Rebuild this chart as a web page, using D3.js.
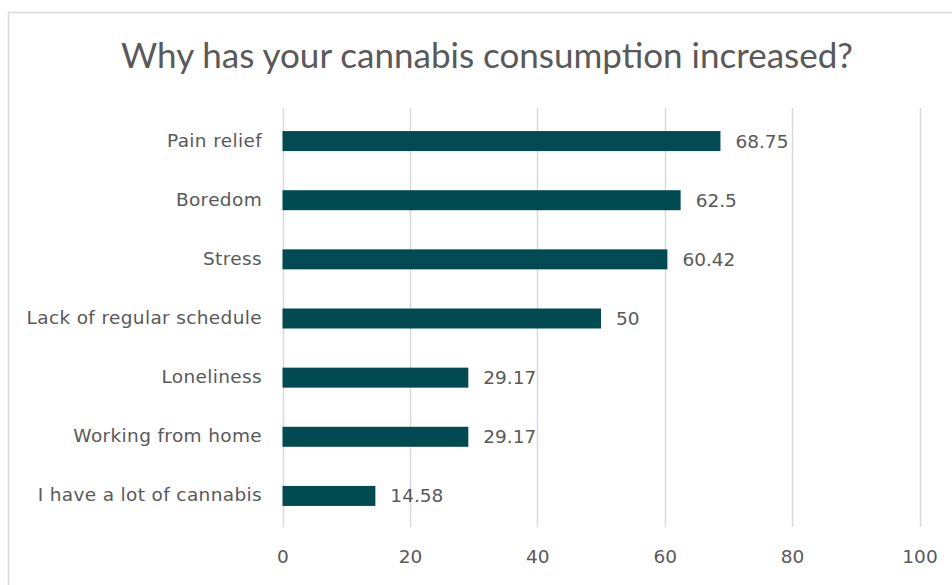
<!DOCTYPE html>
<html>
<head>
<meta charset="utf-8">
<script src="https://cdn.jsdelivr.net/npm/d3@7"></script>
<style>
  html, body { margin: 0; padding: 0; background: #fff; }
  svg { display: block; }
</style>
</head>
<body>
<svg id="chart" width="952" height="585"></svg>
<script>
// Reasons for increased cannabis consumption (% of respondents)
const categories = [
  "Pain relief",
  "Boredom",
  "Stress",
  "Lack of regular schedule",
  "Loneliness",
  "Working from home",
  "I have a lot of cannabis"
];
const values = [68.75, 62.5, 60.42, 50, 29.17, 29.17, 14.58];
const valueLabels = ["68.75", "62.5", "60.42", "50", "29.17", "29.17", "14.58"];
const tickValues = [0, 20, 40, 60, 80, 100];
const titleText = "Why has your cannabis consumption increased?";

const data = categories.map((c, i) => ({ cat: c, val: values[i], label: valueLabels[i] }));

const svg = d3.select("#chart");
const titleFont = "Lato, 'Open Sans', sans-serif";
const labelFont = "'DejaVu Sans', Verdana, sans-serif";
const labelSize = 18.5;
const textColor = "#595959";

// chart frame
svg.append("rect")
  .attr("x", 8.5).attr("y", 12.5)
  .attr("width", 960).attr("height", 600)
  .attr("fill", "#fff")
  .attr("stroke", "#d9d9d9").attr("stroke-width", 1.5);

const x = d3.scaleLinear().domain([0, 100]).range([282.5, 919.5]);
const y = d3.scaleBand().domain(categories).range([111.5, 525.5]).paddingInner(0.66).paddingOuter(0.33);

// vertical gridlines
svg.append("g").selectAll("line")
  .data(tickValues)
  .join("line")
  .attr("x1", d => Math.round(x(d)) + 0.5)
  .attr("x2", d => Math.round(x(d)) + 0.5)
  .attr("y1", 108).attr("y2", 527)
  .attr("stroke", "#d9d9d9").attr("stroke-width", 1.5);

// x axis labels
const xAxis = d3.axisBottom(x).tickValues(tickValues).tickSize(0).tickPadding(0);
const gx = svg.append("g").attr("transform", "translate(0,563)").call(xAxis);
gx.select(".domain").remove();
gx.selectAll("text")
  .attr("font-family", labelFont).attr("font-size", labelSize)
  .attr("fill", textColor).attr("dy", 0);

// category labels
const yAxis = d3.axisLeft(y).tickSize(0).tickPadding(0);
const gy = svg.append("g").attr("transform", "translate(262,0)").call(yAxis);
gy.select(".domain").remove();
gy.selectAll("text")
  .attr("font-family", labelFont).attr("font-size", labelSize)
  .attr("letter-spacing", 0.35)
  .attr("fill", textColor).attr("dy", "0.3em");

// bars
svg.append("g").selectAll("rect")
  .data(data)
  .join("rect")
  .attr("x", x(0))
  .attr("y", d => y(d.cat) + y.bandwidth() / 2 - 10)
  .attr("width", d => x(d.val) - x(0))
  .attr("height", 20)
  .attr("fill", "#014a52");

// value labels
svg.append("g").selectAll("text")
  .data(data)
  .join("text")
  .attr("x", d => x(d.val) + 15)
  .attr("y", d => y(d.cat) + y.bandwidth() / 2)
  .attr("dy", "0.35em")
  .attr("font-family", labelFont).attr("font-size", labelSize)
  .attr("fill", textColor)
  .text(d => d.label);

// title
svg.append("text")
  .attr("x", 487).attr("y", 68)
  .attr("text-anchor", "middle")
  .attr("font-family", titleFont).attr("font-size", 35)
  .attr("fill", textColor)
  .text(titleText);
</script>
</body>
</html>
